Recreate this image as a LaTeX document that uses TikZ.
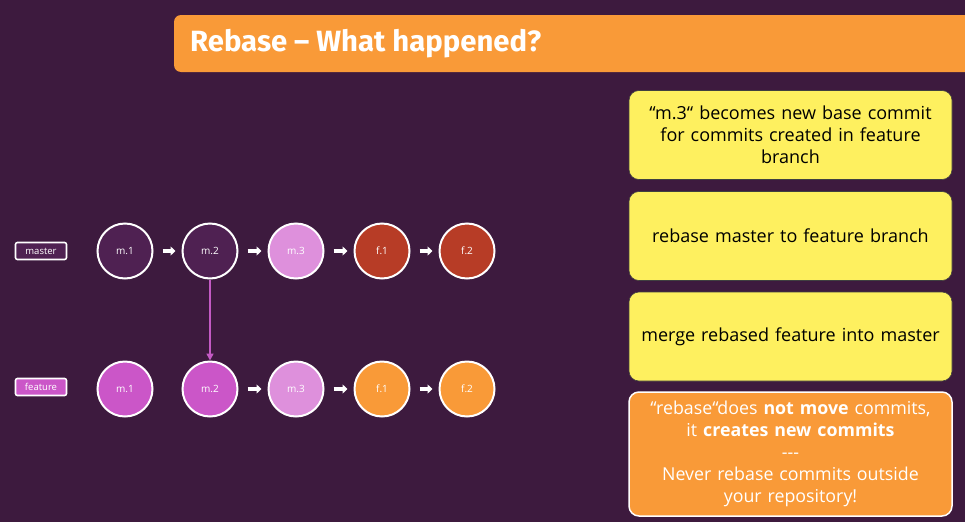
\documentclass[tikz,border=0pt]{standalone}
\usepackage{fontspec}
\setmainfont{Open Sans}
\newfontfamily\titlefont{Fira Sans}
\usetikzlibrary{arrows.meta}

\definecolor{bgplum}{HTML}{3D1A3E}
\definecolor{dkplum}{HTML}{4F2152}
\definecolor{pinklt}{HTML}{DE90DC}
\definecolor{rust}{HTML}{B73C26}
\definecolor{orng}{HTML}{F99A38}
\definecolor{magent}{HTML}{CB56C8}
\definecolor{yel}{HTML}{FEF05F}
\definecolor{linkpurple}{HTML}{C45AC4}

\tikzset{
  commit/.style={circle, draw=white, line width=2pt, minimum size=55pt,
    inner sep=0pt, text=white, font=\fontsize{10}{11}\selectfont},
  branchtag/.style={rectangle, rounded corners=2pt, draw=white, line width=1.6pt,
    minimum width=51pt, minimum height=17pt, inner sep=0pt, text=white,
    font=\fontsize{9.5}{10}\selectfont},
  commitarrow/.style={white, line width=3.5pt,
    -{Triangle[length=5pt,width=9pt]}, shorten <=9pt, shorten >=6pt},
  linkarrow/.style={linkpurple, line width=1.6pt, -{Triangle[length=7pt,width=7pt]}},
  notebox/.style={rectangle, rounded corners=10pt, minimum width=323pt,
    text width=315pt, align=center, inner sep=0pt,
    font=\fontsize{18}{22}\selectfont},
}

\begin{document}
\begin{tikzpicture}[x=1pt,y=-1pt]
  % slide background
  \fill[bgplum] (0,0) rectangle (965,522);
  \useasboundingbox (0,0) rectangle (965,522);

  % title bar
  \fill[orng, rounded corners=7pt] (174,15) rectangle (990,72);
  \node[anchor=west, text=white, inner sep=0pt,
        font=\titlefont\bfseries\fontsize{29.3}{32}\selectfont] (title) at (190,44)
        {Rebase – What happened?};

  % branch tags
  \node[branchtag, fill=dkplum] (master) at (41,251) {master};
  \node[branchtag, fill=magent] (feature) at (41,387) {feature};

  % master branch after rebase
  \node[commit, fill=dkplum] (m1) at (125,251) {m.1};
  \node[commit, fill=dkplum] (m2) at (210,251) {m.2};
  \node[commit, fill=pinklt] (m3) at (296,251) {m.3};
  \node[commit, fill=rust]   (f1) at (382,251) {f.1};
  \node[commit, fill=rust]   (f2) at (467,251) {f.2};

  % feature branch
  \node[commit, fill=magent] (fm1) at (125,389) {m.1};
  \node[commit, fill=magent] (fm2) at (210,389) {m.2};
  \node[commit, fill=pinklt] (fm3) at (296,389) {m.3};
  \node[commit, fill=orng]   (ff1) at (382,389) {f.1};
  \node[commit, fill=orng]   (ff2) at (467,389) {f.2};

  \draw[commitarrow] (m1) -- (m2);
  \draw[commitarrow] (m2) -- (m3);
  \draw[commitarrow] (m3) -- (f1);
  \draw[commitarrow] (f1) -- (f2);

  \draw[commitarrow] (fm2) -- (fm3);
  \draw[commitarrow] (fm3) -- (ff1);
  \draw[commitarrow] (ff1) -- (ff2);

  \draw[linkarrow] (m2) -- (fm2);

  % explanation notes
  \node[notebox, fill=yel, draw=black!75, line width=0.6pt, minimum height=89pt]
    (n1) at (790.5,135) {“m.3“ becomes new base commit\\for commits created in feature\\branch};
  \node[notebox, fill=yel, draw=black!75, line width=0.6pt, minimum height=89pt]
    (n2) at (790.5,236) {rebase master to feature branch};
  \node[notebox, fill=yel, draw=black!75, line width=0.6pt, minimum height=89pt]
    (n3) at (790.5,336.5) {merge rebased feature into master};
  \node[notebox, fill=orng, draw=white, line width=1.5pt, minimum height=124pt,
        text=white, font=\fontsize{17.8}{22}\selectfont]
    (n4) at (790.5,454) {“rebase“does \textbf{not move} commits,\\it \textbf{creates new commits}\\-{}-{}-\\Never rebase commits outside\\your repository!};
\end{tikzpicture}
\end{document}
